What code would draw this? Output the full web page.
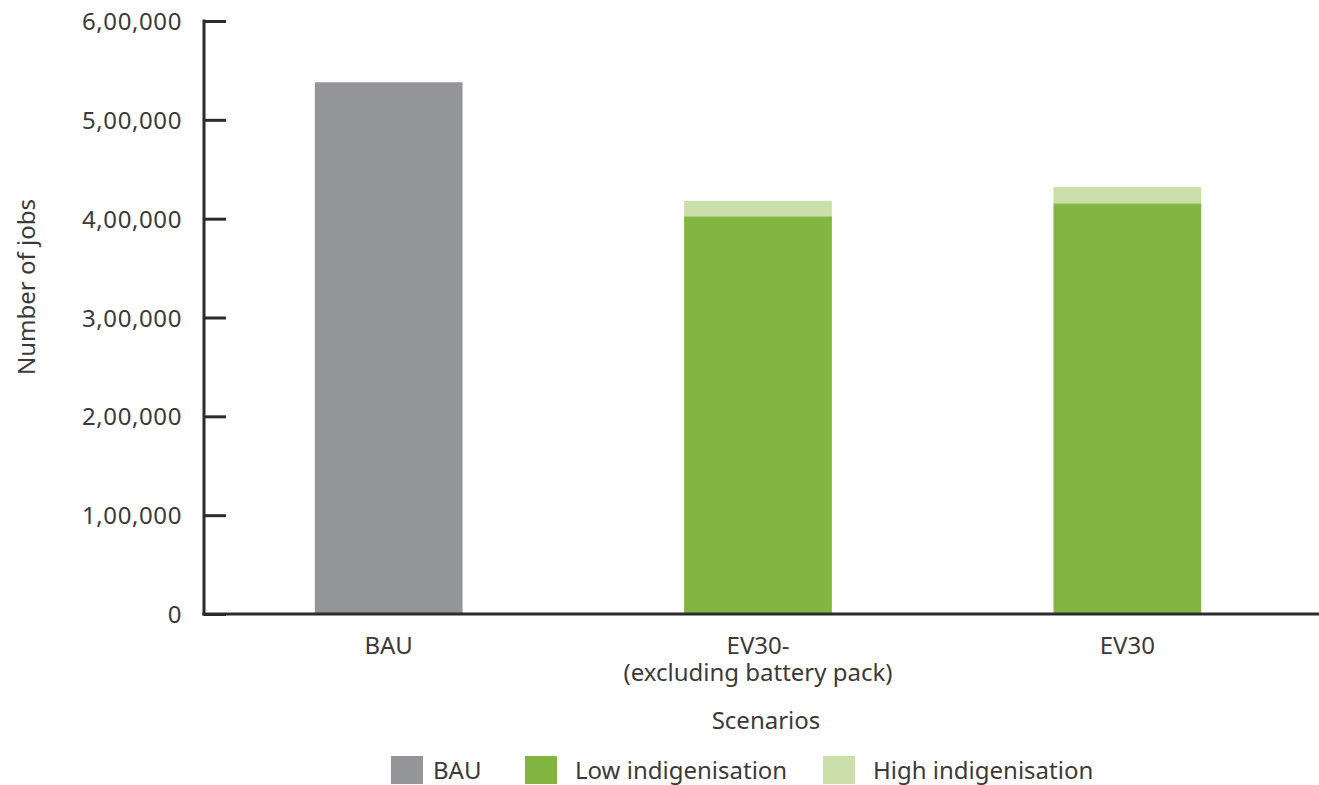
<!DOCTYPE html>
<html lang="en">
  <head>
    <meta charset="utf-8" />
    <title>Number of jobs by scenario</title>
    <script type="text/javascript" src="https://cdn.jsdelivr.net/npm/d3@7"></script>
    <style type="text/css">
      body {
        margin: 0;
        background: #ffffff;
      }
      text {
        font-family: "Noto Sans", sans-serif;
        fill: #3a3a3a;
        font-size: 24px;
      }
    </style>
  </head>
  <body>
    <script type="text/javascript">
      var w = 1319;
      var h = 785;

      // values
      var scenarios = ["BAU", "EV30-", "EV30"];
      var scenarioLabels = [["BAU"], ["EV30-", "(excluding battery pack)"], ["EV30"]];
      var bauValues = [538000, 0, 0];
      var lowValues = [0, 402000, 415000];
      var highValues = [0, 16000, 17000];
      var yTicks = [0, 100000, 200000, 300000, 400000, 500000, 600000];
      var legendLabels = ["BAU", "Low indigenisation", "High indigenisation"];
      var colors = ["#939598", "#82b641", "#cbdfab"];

      var margin = { left: 204, right: 0, top: 21, bottom: 171 };

      var xScale = d3
        .scaleBand()
        .domain(scenarios)
        .range([margin.left, 1312])
        .paddingInner(0.6)
        .paddingOuter(0.3);

      var yScale = d3
        .scaleLinear()
        .domain([0, 600000])
        .range([h - margin.bottom, margin.top]);

      var svg = d3
        .select("body")
        .append("svg")
        .attr("width", w)
        .attr("height", h);

      //stack the three series
      var rows = scenarios.map(function (s, i) {
        return { scenario: s, bau: bauValues[i], low: lowValues[i], high: highValues[i] };
      });
      var stack = d3.stack().keys(["bau", "low", "high"]);
      var layers = stack(rows);

      svg
        .selectAll("g.layer")
        .data(layers)
        .enter()
        .append("g")
        .attr("class", "layer")
        .attr("fill", function (d, i) {
          return colors[i];
        })
        .selectAll("rect")
        .data(function (d) {
          return d.filter(function (p) {
            return p[1] - p[0] > 0;
          });
        })
        .enter()
        .append("rect")
        .attr("x", function (d) {
          return xScale(d.data.scenario);
        })
        .attr("width", xScale.bandwidth())
        .attr("y", function (d) {
          return yScale(d[1]);
        })
        .attr("height", function (d) {
          return yScale(d[0]) - yScale(d[1]);
        });

      //thin line between stacked parts
      svg
        .selectAll("line.sep")
        .data(rows.filter(function (r) { return r.high > 0; }))
        .enter()
        .append("line")
        .attr("x1", function (d) { return xScale(d.scenario); })
        .attr("x2", function (d) { return xScale(d.scenario) + xScale.bandwidth(); })
        .attr("y1", function (d) { return yScale(d.low); })
        .attr("y2", function (d) { return yScale(d.low); })
        .attr("stroke", "#9cc66a")
        .attr("stroke-width", 1);

      //y axis, ticks pointing inwards
      var fmt = function (v) {
        return v.toLocaleString("en-IN");
      };
      var yAxis = d3
        .axisRight(yScale)
        .tickValues(yTicks)
        .tickSize(22)
        .tickFormat("");

      var yg = svg
        .append("g")
        .attr("transform", "translate(" + margin.left + ",0)")
        .call(yAxis);
      yg.select(".domain").remove();
      yg.selectAll(".tick line").attr("stroke", "#2b2b2b").attr("stroke-width", 3);

      svg
        .append("line")
        .attr("x1", margin.left)
        .attr("x2", margin.left)
        .attr("y1", yScale(600000) - 1.5)
        .attr("y2", yScale(0) + 1.5)
        .attr("stroke", "#2b2b2b")
        .attr("stroke-width", 3);

      svg
        .selectAll("text.ytick")
        .data(yTicks)
        .enter()
        .append("text")
        .attr("class", "ytick")
        .attr("x", 182)
        .attr("y", function (d) {
          return yScale(d) + 9;
        })
        .attr("text-anchor", "end")
        .style("letter-spacing", "0.6px")
        .text(fmt);

      //x axis line
      svg
        .append("line")
        .attr("x1", margin.left - 1.5)
        .attr("x2", w)
        .attr("y1", yScale(0))
        .attr("y2", yScale(0))
        .attr("stroke", "#2b2b2b")
        .attr("stroke-width", 3);

      //category labels, one text per line
      var xlab = svg
        .selectAll("g.xlab")
        .data(scenarios)
        .enter()
        .append("g")
        .attr("class", "xlab")
        .attr("transform", function (d) {
          return "translate(" + (xScale(d) + xScale.bandwidth() / 2) + ",654)";
        });

      xlab
        .selectAll("text")
        .data(function (d, i) {
          return scenarioLabels[i];
        })
        .enter()
        .append("text")
        .attr("text-anchor", "middle")
        .attr("y", function (d, i) {
          return i * 27;
        })
        .text(function (d) {
          return d;
        });

      //axis titles
      svg
        .append("text")
        .attr("x", 766)
        .attr("y", 729)
        .attr("text-anchor", "middle")
        .text("Scenarios");

      svg
        .append("text")
        .attr("transform", "translate(35,287) rotate(-90)")
        .attr("text-anchor", "middle")
        .text("Number of jobs");

      //legend
      var legendX = [391, 525, 823];
      var legend = svg
        .selectAll("g.legend")
        .data(legendLabels)
        .enter()
        .append("g")
        .attr("class", "legend")
        .attr("transform", function (d, i) {
          return "translate(" + legendX[i] + ",756)";
        });

      legend
        .append("rect")
        .attr("width", 32)
        .attr("height", 28)
        .attr("fill", function (d, i) {
          return colors[i];
        });

      legend
        .append("text")
        .attr("x", function (d, i) {
          return i === 0 ? 42 : 50;
        })
        .attr("y", 23)
        .text(function (d) {
          return d;
        });
    </script>
  </body>
</html>
